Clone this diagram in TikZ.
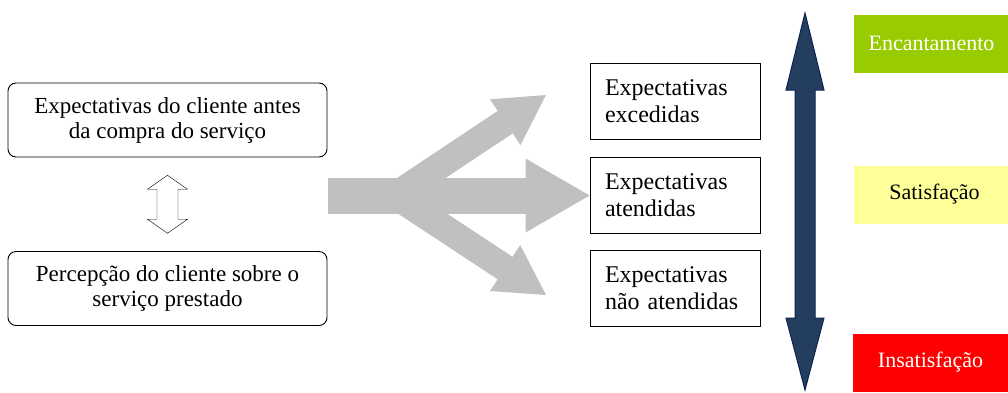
\documentclass[tikz,border=0pt]{standalone}
\usepackage{fontspec}
\setmainfont{Liberation Serif}
\usetikzlibrary{arrows.meta,positioning,calc}

\definecolor{arrowgray}{RGB}{192,192,192}
\definecolor{scalenavy}{RGB}{36,62,96}
\definecolor{scaleedge}{RGB}{15,36,82}
\definecolor{delightgreen}{RGB}{153,204,0}
\definecolor{okyellow}{RGB}{255,255,153}

\begin{document}
\begin{tikzpicture}[x=1pt, y=-1pt,
    roundbox/.style={draw, line width=0.9pt, rounded corners=8pt, minimum width=319pt,
      minimum height=74pt, align=center, font=\fontsize{23}{25}\selectfont},
    resultbox/.style={draw, line width=0.9pt, minimum width=170pt, minimum height=76pt,
      inner xsep=15pt, text width=140pt, align=left, font=\fontsize{24}{27}\selectfont},
    level/.style={minimum width=155pt, minimum height=58pt, inner sep=0pt,
      font=\fontsize{22}{24}\selectfont},
    mainflow/.style={draw=arrowgray, line width=36pt,
      -{Triangle[width=74pt, length=64pt, line width=0pt]}},
    branchflow/.style={draw=arrowgray, line width=27pt,
      -{Triangle[width=55pt, length=49pt, line width=0pt]}},
  ]
  \useasboundingbox (0,0) rectangle (1008,392);

  % Expectation and perception
  \node[roundbox] (before) at (167.5,120) {Expectativas do cliente antes\\da compra do serviço};
  \node[roundbox] (after) at (167.5,288.5) {Percepção do cliente sobre o\\serviço prestado};
  \coordinate (cmp) at ($(before.south)!0.5!(after.north)$);
  \draw[fill=white] (cmp) ++(0,-29) -- ++(20,14) -- ++(-9.5,0) -- ++(0,30)
    -- ++(9.5,0) -- ++(-20,14) -- ++(-20,-14) -- ++(9.5,0) -- ++(0,-30)
    -- ++(-9.5,0) -- cycle;

  % Outcomes
  \node[resultbox] (exceeded) at (675,101) {Expectativas\\excedidas};
  \node[resultbox] (met) at (675,195.5) {Expectativas\\atendidas};
  \node[resultbox] (unmet) at (675,288.5) {Expectativas\\não atendidas};

  % Gray flow arrows
  \coordinate (fork) at (328,195.5);
  \coordinate (split) at (395,195.5);
  \coordinate (uptip) at (546,95);
  \coordinate (downtip) at (546,295);
  \draw[branchflow] (split) -- (uptip);
  \draw[branchflow] (split) -- (downtip);
  \draw[mainflow] (fork) -- (met.west);

  % Scale
  \fill[scalenavy, draw=scaleedge, line width=1pt] (805,13) -- (824,90) -- (815,90) -- (815,318)
    -- (824,318) -- (805,390) -- (786,318) -- (795,318) -- (795,90) -- (786,90) -- cycle;
  \node[level, fill=delightgreen, text=white] (delight) at (931.5,43.5) {Encantamento};
  \node[level, fill=okyellow] (satisfied) at (931.5,194.5) {\hspace{6pt}Satisfação};
  \node[level, fill=red, text=white] (unsatisfied) at (930.5,362.5) {Insatisfação};
\end{tikzpicture}
\end{document}
